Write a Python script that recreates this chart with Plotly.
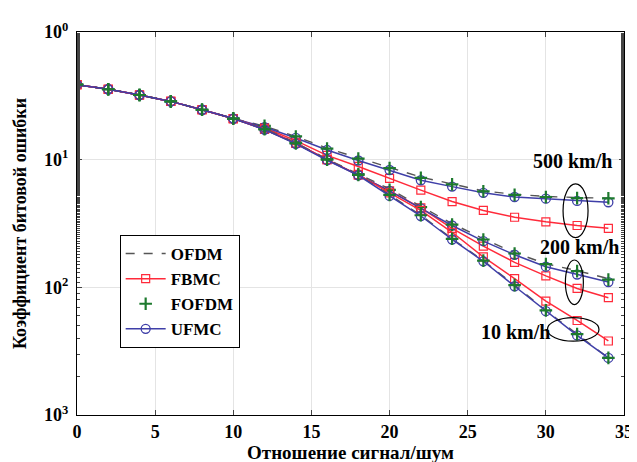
import plotly.graph_objects as go

snr = [0, 2, 4, 6, 8, 10, 12, 14, 16, 18, 20, 22, 24, 26, 28, 30, 32, 34]
common = [0.387, 0.356, 0.321, 0.286, 0.246, 0.210]

ofdm_500 = common + [0.183, 0.152, 0.123, 0.103, 0.0865, 0.073, 0.0645, 0.057, 0.0535, 0.0515, 0.0505, 0.0500]
fofdm_500 = common + [0.184, 0.152, 0.122, 0.102, 0.0858, 0.072, 0.064, 0.0565, 0.053, 0.051, 0.050, 0.0498]
ufmc_500 = common + [0.180, 0.148, 0.119, 0.0985, 0.083, 0.069, 0.0615, 0.055, 0.051, 0.0495, 0.0475, 0.0464]
fbmc_500 = common + [0.178, 0.141, 0.108, 0.0885, 0.0713, 0.0577, 0.0470, 0.0400, 0.0354, 0.0326, 0.0305, 0.0290]

ofdm_200 = common + [0.175, 0.136, 0.101, 0.077, 0.059, 0.0430, 0.0316, 0.0240, 0.0187, 0.0153, 0.0135, 0.0117]
fofdm_200 = common + [0.175, 0.136, 0.101, 0.077, 0.058, 0.0425, 0.031, 0.0237, 0.0184, 0.0152, 0.0134, 0.0115]
ufmc_200 = common + [0.173, 0.134, 0.100, 0.076, 0.057, 0.0415, 0.0305, 0.0230, 0.0180, 0.0145, 0.0126, 0.0110]
fbmc_200 = common + [0.174, 0.135, 0.100, 0.076, 0.057, 0.0420, 0.0290, 0.0210, 0.0157, 0.0123, 0.0098, 0.0083]

ofdm_10 = common + [0.173, 0.134, 0.100, 0.0760, 0.053, 0.0367, 0.0240, 0.0162, 0.0104, 0.0066, 0.0043, 0.0028]
fofdm_10 = common + [0.173, 0.134, 0.100, 0.0760, 0.053, 0.0367, 0.0240, 0.0162, 0.0104, 0.0066, 0.0043, 0.0028]
ufmc_10 = common + [0.172, 0.133, 0.099, 0.0755, 0.052, 0.0362, 0.0237, 0.0160, 0.0102, 0.0065, 0.0042, 0.0028]
fbmc_10 = common + [0.173, 0.134, 0.100, 0.0760, 0.055, 0.0400, 0.0270, 0.0173, 0.0117, 0.0078, 0.0055, 0.0038]

speed_labels = ["500 km/h", "200 km/h", "10 km/h"]
y_tickvals = [1, 0.1, 0.01, 0.001]
y_ticktext = ["10<sup>0</sup>", "10<sup>1</sup>", "10<sup>2</sup>", "10<sup>3</sup>"]
x_tickvals = [0, 5, 10, 15, 20, 25, 30, 35]

FONT = "Liberation Serif"
C_OFDM = "#555555"
C_FBMC = "#ff2a3a"
C_FOFDM = "#1d7a2e"
C_UFMC = "#3f3fa8"

fig = go.Figure()
groups = [
    (ofdm_500, fbmc_500, fofdm_500, ufmc_500),
    (ofdm_200, fbmc_200, fofdm_200, ufmc_200),
    (ofdm_10, fbmc_10, fofdm_10, ufmc_10),
]
for i, (o, fb, fo, uf) in enumerate(groups):
    first = i == 0
    fig.add_trace(go.Scatter(x=snr, y=fb, mode="lines+markers", name="FBMC",
                             legendgroup="FBMC", showlegend=first, legendrank=2,
                             line=dict(color=C_FBMC, width=1.5),
                             marker=dict(symbol="square-open", size=8, color=C_FBMC, line=dict(width=1.2))))
    fig.add_trace(go.Scatter(x=snr, y=o, mode="lines", name="OFDM",
                             legendgroup="OFDM", showlegend=first, legendrank=1,
                             line=dict(color=C_OFDM, width=1.4, dash="dash")))
    fig.add_trace(go.Scatter(x=snr, y=uf, mode="lines+markers", name="UFMC",
                             legendgroup="UFMC", showlegend=first, legendrank=4,
                             line=dict(color=C_UFMC, width=1.5),
                             marker=dict(symbol="circle-open", size=9, color=C_UFMC, line=dict(width=1.3))))
    fig.add_trace(go.Scatter(x=snr, y=fo, mode="markers", name="FOFDM",
                             legendgroup="FOFDM", showlegend=first, legendrank=3,
                             marker=dict(symbol="cross-thin", size=9, color=C_FOFDM,
                                         line=dict(width=2.2, color=C_FOFDM))))

# ellipses around the 32 dB points
ellipses = [
    (31.1, 32.7, 10 ** -1.61, 10 ** -1.19),
    (31.25, 32.4, 10 ** -2.135, 10 ** -1.786),
    (30.1, 33.4, 10 ** -2.422, 10 ** -2.237),
]
for x0, x1, y0, y1 in ellipses:
    fig.add_shape(type="circle", xref="x", yref="y", x0=x0, x1=x1, y0=y0, y1=y1,
                  line=dict(color="black", width=1.2))

label_pos = [(31.73, -1.008), (32.13, -1.687), (28.07, -2.351)]
for txt, (lx, ly) in zip(speed_labels, label_pos):
    fig.add_annotation(x=lx, y=ly, text=txt, showarrow=False, xref="x", yref="y",
                       font=dict(family=FONT, size=20, color="black", weight="bold"))

fig.update_layout(
    width=637, height=462,
    margin=dict(l=69, r=12, t=22, b=47),
    paper_bgcolor="white", plot_bgcolor="white",
    font=dict(family=FONT, color="black", weight="bold"),
    legend=dict(x=0.078, y=0.47, xanchor="left", yanchor="top",
                bgcolor="white", bordercolor="black", borderwidth=1,
                font=dict(family=FONT, size=17, color="black", weight="bold"),
                tracegroupgap=0, itemwidth=40),
)
fig.update_xaxes(range=[0, 35], tickvals=x_tickvals, ticks="inside", ticklen=5,
                 showline=True, linecolor="black", linewidth=1, mirror="ticks",
                 showgrid=True, gridcolor="#e4e4e4", gridwidth=1, zeroline=False,
                 tickfont=dict(family=FONT, size=18, color="black", weight="bold"),
                 title=dict(text="Отношение сигнал/шум", standoff=3,
                            font=dict(family=FONT, size=19, color="black", weight="bold")))
fig.update_yaxes(type="log", range=[-3, 0], tickvals=y_tickvals, ticktext=y_ticktext,
                 ticks="inside", ticklen=5, ticklabelstandoff=4,
                 minor=dict(ticks="inside", ticklen=3, showgrid=False),
                 showline=True, linecolor="black", linewidth=1, mirror="ticks",
                 showgrid=True, gridcolor="#e4e4e4", gridwidth=1,
                 tickfont=dict(family=FONT, size=18, color="black", weight="bold"),
                 title=dict(text="Коэффициент битовой ошибки", standoff=12,
                            font=dict(family=FONT, size=18, color="black", weight="bold")))

fig.write_html("out.html")
